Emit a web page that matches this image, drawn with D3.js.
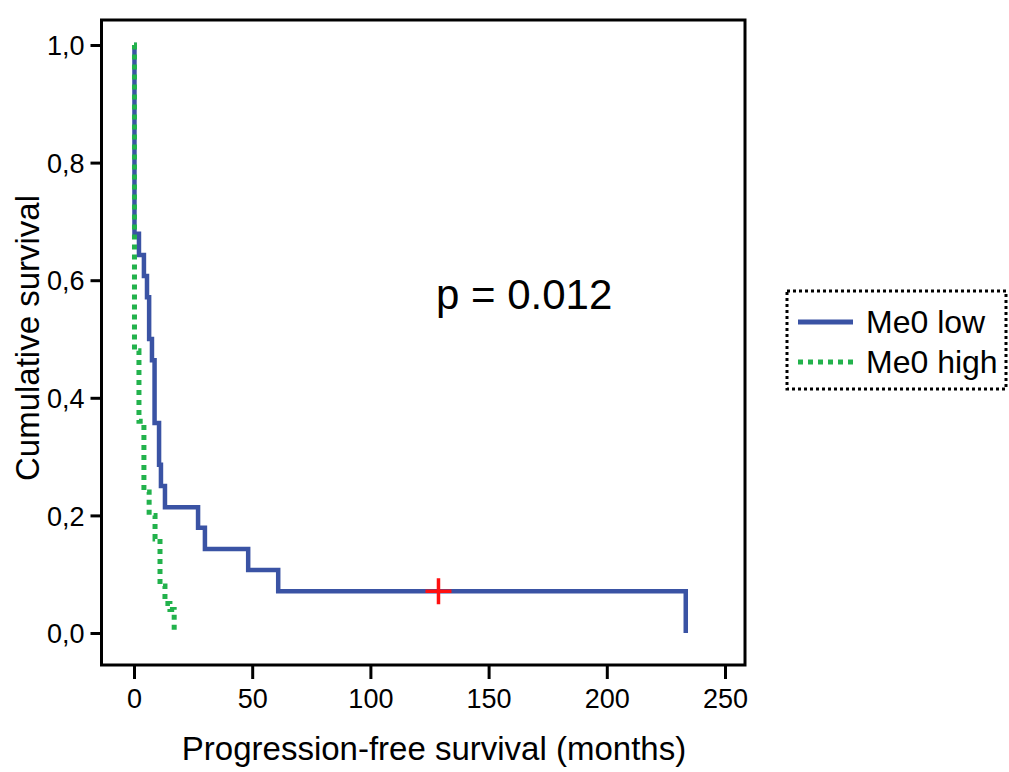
<!DOCTYPE html>
<html>
<head>
<meta charset="utf-8">
<script src="https://cdn.jsdelivr.net/npm/d3@7"></script>
<style>
  body { margin: 0; background: #fff; }
  svg { font-family: "Liberation Sans", Arial, sans-serif; }
</style>
</head>
<body>
<svg width="1009" height="772"></svg>
<script>
// Kaplan-Meier steps (months, cumulative survival after the step)
const lowTimes = [0, 0.2, 2.1, 4.2, 5.5, 6.4, 7.6, 8.7, 10.6, 11.4, 13.1, 27.1, 30, 48.3, 61, 233.4];
const lowSurv  = [1, 0.679, 0.643, 0.607, 0.571, 0.5, 0.464, 0.357, 0.286, 0.25, 0.214, 0.179, 0.143, 0.107, 0.071, 0];
const lowCensorTimes = [128.8];
const lowCensorSurv  = [0.071];

const highTimes = [0, 0.2, 2.1, 4.2, 6.4, 8.9, 11, 13.1, 15.2, 17];
const highSurv  = [1, 0.48, 0.36, 0.24, 0.2, 0.16, 0.08, 0.05, 0.04, 0];

const seriesNames = ["Me0 low", "Me0 high"];
const xTicks = [0, 50, 100, 150, 200, 250];
const yTicks = [0, 0.2, 0.4, 0.6, 0.8, 1.0];
const pText = "p = 0.012";

let svg = d3.select("svg");

// frame of the plot
const frame = {left: 101.5, right: 745, top: 20, bottom: 665};

let x = d3.scaleLinear().domain([0, 250]).range([134, 725]);
let y = d3.scaleLinear().domain([0, 1]).range([633, 45]);

const blue = "#3a53a4", green = "#22b24c";

svg.append("rect")
    .attr("x", frame.left).attr("y", frame.top)
    .attr("width", frame.right - frame.left)
    .attr("height", frame.bottom - frame.top)
    .attr("fill", "none").attr("stroke", "#000").attr("stroke-width", 3);

// axes
let comma = d3.formatLocale({decimal: ",", thousands: ".", grouping: [3], currency: ["", ""]}).format(".1f");

let xAxis = svg.append("g")
    .attr("transform", `translate(0,${frame.bottom})`)
    .call(d3.axisBottom(x).tickValues(xTicks).tickSizeInner(14).tickSizeOuter(0).tickPadding(10));
let yAxis = svg.append("g")
    .attr("transform", `translate(${frame.left},0)`)
    .call(d3.axisLeft(y).tickValues(yTicks).tickFormat(comma).tickSizeInner(11).tickSizeOuter(0).tickPadding(6));

[xAxis, yAxis].forEach(a => {
  a.select(".domain").remove();
  a.selectAll(".tick line").attr("stroke", "#000").attr("stroke-width", 3);
  a.selectAll(".tick text").attr("fill", "#000")
      .style("font-size", "27px").style("font-family", "Liberation Sans, Arial, sans-serif");
});
yAxis.selectAll(".tick text").attr("dy", "0.36em");

svg.append("text")
    .attr("x", 434).attr("y", 760)
    .attr("text-anchor", "middle")
    .style("font-size", "33px")
    .text("Progression-free survival (months)");

svg.append("text")
    .attr("transform", "translate(39,338) rotate(-90)")
    .attr("text-anchor", "middle")
    .style("font-size", "33px")
    .text("Cumulative survival");

// curves
let line = d3.line()
    .x(d => x(d[0]))
    .y(d => y(d[1]))
    .curve(d3.curveStepAfter);

let lowData = lowTimes.map((t, i) => [t, lowSurv[i]]);
let highData = highTimes.map((t, i) => [t, highSurv[i]]);

svg.append("path")
    .datum(lowData)
    .attr("d", line)
    .attr("fill", "none")
    .attr("stroke", blue)
    .attr("stroke-width", 4.5);

svg.append("path")
    .datum(highData)
    .attr("d", line)
    .attr("fill", "none")
    .attr("stroke", green)
    .attr("stroke-width", 5)
    .attr("stroke-dasharray", "5,5");

// censor marks
let censor = svg.append("g");
lowCensorTimes.forEach((t, i) => {
  let cx = x(t), cy = y(lowCensorSurv[i]);
  censor.append("line").attr("x1", cx - 13).attr("x2", cx + 13).attr("y1", cy).attr("y2", cy)
      .attr("stroke", "#ff1010").attr("stroke-width", 3.5);
  censor.append("line").attr("x1", cx).attr("x2", cx).attr("y1", cy - 13).attr("y2", cy + 13)
      .attr("stroke", "#ff1010").attr("stroke-width", 3.5);
});

// p value
svg.append("text")
    .attr("x", 436).attr("y", 309)
    .style("font-size", "42px")
    .text(pText);

// legend
let lg = svg.append("g").attr("transform", "translate(787,291)");
lg.append("rect")
    .attr("width", 219).attr("height", 98)
    .attr("fill", "none").attr("stroke", "#000")
    .attr("stroke-width", 3).attr("stroke-dasharray", "3,3");
let styles = [{c: blue, dash: null}, {c: green, dash: "5,5"}];
seriesNames.forEach((name, i) => {
  let yy = 31 + i * 40;
  lg.append("line")
      .attr("x1", 11).attr("x2", 66).attr("y1", yy).attr("y2", yy)
      .attr("stroke", styles[i].c).attr("stroke-width", 5)
      .attr("stroke-dasharray", styles[i].dash);
  lg.append("text")
      .attr("x", 79).attr("y", yy + 11)
      .style("font-size", "32px")
      .text(name);
});
</script>
</body>
</html>
